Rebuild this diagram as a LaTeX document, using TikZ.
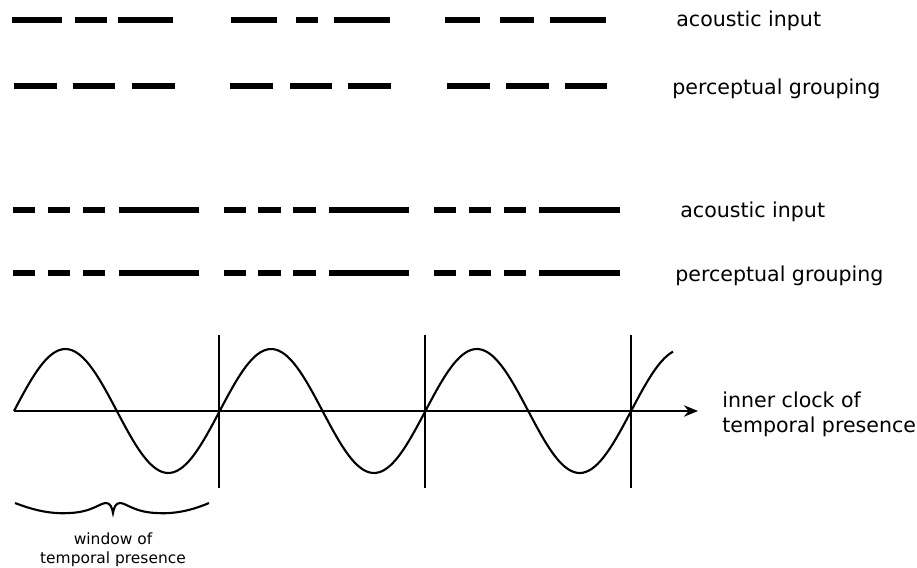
\documentclass[tikz,border=0pt]{standalone}
\usepackage{fontspec}
\setmainfont{DejaVu Sans}
\usetikzlibrary{
  arrows.meta,
  positioning
}
\tikzset{>={Stealth[length=8pt, width=6.5pt]}}
\tikzset{
  tone/.style={line width=2.85pt},
  wave/.style={line width=1.2pt},
  rowtext/.style={font=\fontsize{11.7}{14.3}\selectfont, inner sep=0pt, anchor=base west},
  smalltext/.style={font=\fontsize{8.8}{10.9}\selectfont, inner sep=0pt, align=center}
}

\begin{document}
\begin{tikzpicture}[x=0.02cm, y=-0.02cm]
            \useasboundingbox (0,0) rectangle (917,568);
            % irregular input, regular grouping
            \foreach \a/\b in {12/62, 75/107, 118/173, 231/277, 296/318, 334/390, 445/480, 500/534, 550/606}
                \draw[tone] (\a,20) -- (\b,20);
            \foreach \a/\b in {14/57, 73/115, 132/175, 230/273, 290/332, 348/391, 447/490, 506/549, 565/607}
                \draw[tone] (\a,86) -- (\b,86);
            \node[rowtext] (input1) at (676,27) {acoustic input};
            \node[rowtext] (group1) at (672,94) {perceptual grouping};
            % short-short-short-long pattern
            \foreach \y in {210,273}
                \foreach \a/\b in {13/35, 48/70, 83/105, 119/199, 224/246, 258/281, 293/316, 329/409, 434/456, 469/491, 504/526, 539/620}
                    \draw[tone] (\a,\y) -- (\b,\y);
            \node[rowtext] (input2) at (680,217) {acoustic input};
            \node[rowtext] (group2) at (675,281) {perceptual grouping};
            % inner clock
            \coordinate (origin) at (14,411);
            \coordinate (tip) at (698,411);
            \draw[->, line width=0.85pt] (origin) -- (tip);
            \draw[wave] plot[domain=14:673, samples=220] (\x, {411 - 62*sin(1.7501*(\x-14))});
            \foreach \x in {219,425,631}
                \draw[wave] (\x,335) -- (\x,488);
            \node[rowtext, anchor=west, align=left, font=\fontsize{11.7}{14.6}\selectfont,
                right=0.48cm of tip, yshift=-0.07cm] (clock) {inner clock of\\temporal presence};
            % one window
            \coordinate (window tip) at (113,513);
            \draw[wave] (15,503) .. controls (38,512) and (55,514) .. (70,513)
                .. controls (92,512) and (100,503) .. (106,503)
                .. controls (110,503) and (112,507) .. (window tip)
                .. controls (114,507) and (116,503) .. (120,503)
                .. controls (126,503) and (134,512) .. (156,513)
                .. controls (171,514) and (188,512) .. (209,503);
            \node[smalltext, font=\fontsize{8.8}{11.2}\selectfont, below=0.38cm of window tip] (window) {window of\\temporal presence};
        \end{tikzpicture}
\end{document}
